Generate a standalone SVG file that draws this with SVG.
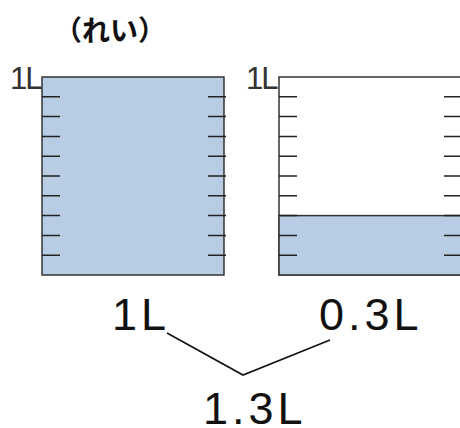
<svg xmlns="http://www.w3.org/2000/svg" width="460" height="428" viewBox="0 0 460 428">
<style>
.box{fill:#fff;stroke:#333;stroke-width:1.5}
.water{fill:#b8cce4;stroke:#333;stroke-width:1.5}
.tick{stroke:#222;stroke-width:1.5}
.small{font-family:"Liberation Sans",Arial,sans-serif;font-size:31px;fill:#333;letter-spacing:-2px}
.big{font-family:"Liberation Sans",Arial,sans-serif;font-size:45px;fill:#111;letter-spacing:4px}
.title{font-family:"Noto Sans CJK JP",sans-serif;font-size:28px;font-weight:bold;fill:#111}
.conn{stroke:#111;stroke-width:1.6;fill:none}
</style>
<defs>
<g id="ticks">
<path class="tick" d="M0,96.8h18M0,116.6h18M0,136.4h18M0,156.2h18M0,176h18M0,195.8h18M0,215.6h18M0,235.4h18M0,255.2h18"/>
</g>
</defs>
<text class="title" x="110" y="41" text-anchor="middle">（れい）</text>
<g id="left-container">
<rect class="water" x="42" y="77" width="182" height="198"/>
<use href="#ticks" x="42"/>
<use href="#ticks" x="208"/>
<text class="small" x="10" y="89">1L</text>
</g>
<g id="right-container">
<rect class="box" x="279" y="77" width="182" height="198"/>
<rect class="water" x="279" y="215.6" width="182" height="59.4"/>
<use href="#ticks" x="279"/>
<use href="#ticks" x="444"/>
<text class="small" x="246" y="89">1L</text>
</g>
<g id="label-1L"><text class="big" x="112" y="330">1L</text></g>
<g id="label-03L"><text class="big" x="319" y="330">0.3L</text></g>
<g id="label-13L"><text class="big" x="203" y="424">1.3L</text></g>
<g id="connectors">
<polyline class="conn" points="167,333 243,375 330,340"/>
</g>
</svg>
